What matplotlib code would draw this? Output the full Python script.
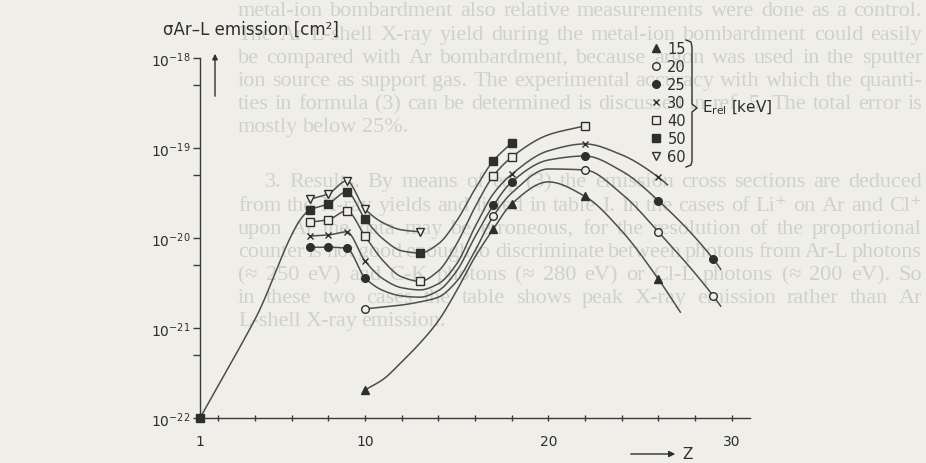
import numpy as np
import matplotlib
matplotlib.use("Agg")
import matplotlib.pyplot as plt
from matplotlib.lines import Line2D

W, H = 926, 464

# projectile energies (keV) and their symbols
energies = [15, 20, 25, 30, 40, 50, 60]
symbols = ["^", "o", "o", "x", "s", "s", "v"]
solid = [True, False, True, True, False, True, False]

# hand-drawn curves: knots (Z, sigma in cm^2) and the Z values carrying a measured point
z15 = [10, 11, 12, 13, 14, 15, 16, 17, 18, 20, 22, 24, 26, 27.2]
s15 = [2.05e-22, 2.7e-22, 4.2e-22, 6.8e-22, 1.2e-21, 2.6e-21, 6.15e-21,
       1.26e-20, 2.4e-20, 4.2e-20, 2.9e-20, 1.2e-20, 3.5e-21, 1.5e-21]
m15 = [10, 17, 18, 22, 26]

z20 = [10, 11, 12, 13, 14, 15, 16, 17, 18, 20, 22, 24, 26, 29, 29.4]
s20 = [1.63e-21, 1.71e-21, 1.8e-21, 1.95e-21, 2.2e-21, 3.3e-21, 7.2e-21,
       1.75e-20, 3.16e-20, 5.85e-20, 5.7e-20, 3.1e-20, 1.17e-20, 2.27e-21, 1.75e-21]
m20 = [10, 17, 22, 26, 29]

z25 = [7, 8, 9, 10, 11, 12, 13, 14, 15, 16, 17, 18, 20, 22, 24, 26, 29, 29.4]
s25 = [7.9e-21, 7.9e-21, 7.7e-21, 3.6e-21, 2.6e-21, 2.27e-21, 2.2e-21, 2.6e-21,
       4.3e-21, 1.03e-20, 2.3e-20, 4.2e-20, 7.35e-20, 8.15e-20, 5.55e-20,
       2.6e-20, 5.85e-21, 4.5e-21]
m25 = [7, 8, 9, 10, 17, 18, 22, 26, 29]

z30 = [7, 8, 9, 10, 11, 12, 13, 14, 15, 16, 17, 18, 20, 22, 24, 26, 26.5]
s30 = [1.05e-20, 1.08e-20, 1.17e-20, 5.55e-21, 3.5e-21, 2.8e-21, 2.65e-21,
       3.1e-21, 5.15e-21, 1.33e-20, 3.1e-20, 5.1e-20, 9.3e-20, 1.11e-19,
       8.4e-20, 4.75e-20, 3.9e-20]
m30 = [7, 8, 9, 10, 18, 22, 26]

z40 = [7, 8, 9, 10, 11, 12, 13, 14, 15, 16, 17, 18, 20, 22]
s40 = [1.5e-20, 1.6e-20, 2.0e-20, 1.05e-20, 5.55e-21, 3.7e-21, 3.3e-21,
       4.3e-21, 8.6e-21, 2.2e-20, 4.9e-20, 7.9e-20, 1.4e-19, 1.76e-19]
m40 = [7, 8, 9, 10, 13, 17, 18, 22]

z50 = [1, 4, 7, 8, 9, 10, 11, 12, 13, 14, 15, 16, 17, 18]
s50 = [1.0e-22, 1.25e-21, 2.05e-20, 2.4e-20, 3.25e-20, 1.63e-20, 9.7e-21, 7.2e-21,
       6.8e-21, 8.6e-21, 1.55e-20, 3.5e-20, 7.2e-20, 1.14e-19]
m50 = [1, 7, 8, 9, 10, 13, 17, 18]

z60 = [7, 8, 9, 10, 11, 12, 13]
s60 = [2.7e-20, 3.1e-20, 4.3e-20, 2.1e-20, 1.47e-20, 1.23e-20, 1.17e-20]
m60 = [7, 8, 9, 10, 13]

curves = [(z15, s15, m15), (z20, s20, m20), (z25, s25, m25), (z30, s30, m30),
          (z40, s40, m40), (z50, s50, m50), (z60, s60, m60)]

# page text printed behind the figure; True marks a justified (full) line
page_lines = [
    ("metal-ion bombardment also relative measurements were done as a control.", True),
    ("The Ar L-shell X-ray yield during the metal-ion bombardment could easily", True),
    ("be compared with Ar bombardment, because argon was used in the sputter", True),
    ("ion source as support gas. The experimental accuracy with which the quanti-", True),
    ("ties in formula (3) can be determined is discussed in ref. 5. The total error is", True),
    ("mostly below 25%.", False),
]
page_lines2 = [
    ("3. Results. By means of eq. (3) the emission cross sections are deduced", True),
    ("from the X-ray yields and listed in table I. In the cases of Li\u207a on Ar and Cl\u207a", True),
    ("upon Ar the data may be erroneous, for the resolution of the proportional", True),
    ("counter is not good enough to discriminate between photons from Ar-L photons", True),
    ("(\u2248 250 eV) and C-K photons (\u2248 280 eV) or Cl-L photons (\u2248 200 eV). So", True),
    ("in these two cases the table shows peak X-ray emission rather than Ar", True),
    ("L-shell X-ray emission.", False),
]


def pchip(x, y, xs):
    # monotone cubic Hermite through the knots, so the drawn curve never overshoots
    x = np.asarray(x, float)
    y = np.asarray(y, float)
    h = np.diff(x)
    d = np.diff(y) / h
    n = len(x)
    m = np.zeros(n)
    m[0], m[-1] = d[0], d[-1]
    for k in range(1, n - 1):
        if d[k - 1] * d[k] > 0:
            w1 = 2 * h[k] + h[k - 1]
            w2 = h[k] + 2 * h[k - 1]
            m[k] = (w1 + w2) / (w1 / d[k - 1] + w2 / d[k])
    k = np.clip(np.searchsorted(x, xs) - 1, 0, n - 2)
    t = (xs - x[k]) / h[k]
    h00 = 2 * t ** 3 - 3 * t ** 2 + 1
    h10 = t ** 3 - 2 * t ** 2 + t
    h01 = -2 * t ** 3 + 3 * t ** 2
    h11 = t ** 3 - t ** 2
    return h00 * y[k] + h10 * h[k] * m[k] + h01 * y[k + 1] + h11 * h[k] * m[k + 1]


def fig_xy(px, py):
    return px / W, 1 - py / H


paper = "#efeee9"
ink = "#2e2e2e"
line_col = "#4d4d4d"
faint = "#d1d1cc"

fig = plt.figure(figsize=(W / 100, H / 100), dpi=100, facecolor=paper)
renderer = fig.canvas.get_renderer()


def page_line(txt, full, left, py, right=922, size=16.0):
    words = txt.split()
    texts = [fig.text(0, 0, w, fontsize=size, family=["Liberation Serif", "DejaVu Serif"],
                      color=faint, va="center", ha="left", zorder=-5) for w in words]
    widths = [t.get_window_extent(renderer).width for t in texts]
    space = 4.5
    if full and len(words) > 1:
        space = (right - left - sum(widths)) / (len(words) - 1)
        if space < 3.5:
            # too long at this size: shrink the whole line to fit
            scale = (right - left - 3.5 * (len(words) - 1)) / sum(widths)
            for t in texts:
                t.set_fontsize(size * scale)
            widths = [w * scale for w in widths]
            space = 3.5
    x = left
    for t, w in zip(texts, widths):
        t.set_position(fig_xy(x, py))
        x += w + space


for i, (txt, full) in enumerate(page_lines):
    page_line(txt, full, 238, 12 + 23.1 * i)
for i, (txt, full) in enumerate(page_lines2):
    page_line(txt, full, 265 if i == 0 else 238, 183 + 23.1 * i)

ax = fig.add_axes([200 / W, 45 / H, 550 / W, 360 / H])
ax.set_facecolor("none")
ax.set_yscale("log")
ax.set_xlim(1, 31)
ax.set_ylim(1e-22, 1e-18)

for (zk, sk, mk), sym, fill in zip(curves, symbols, solid):
    zz = np.linspace(zk[0], zk[-1], 300)
    ls = pchip(zk, np.log10(sk), zz)
    ax.plot(zz, 10 ** ls, color=line_col, lw=1.1, zorder=2)
    lookup = dict(zip(zk, sk))
    ms = [lookup[z] for z in mk]
    ax.plot(mk, ms, ls="none", marker=sym, ms=5.5 if sym != "x" else 5,
            mfc=ink if fill else paper, mec=ink, mew=1.0, zorder=3, clip_on=False)

for side in ["top", "right"]:
    ax.spines[side].set_visible(False)
for side in ["left", "bottom"]:
    ax.spines[side].set_color("#3a3a3a")
    ax.spines[side].set_linewidth(1.0)

ax.set_yticks([1e-22, 1e-21, 1e-20, 1e-19, 1e-18])
ax.set_yticklabels([r"$10^{-22}$", r"$10^{-21}$", r"$10^{-20}$", r"$10^{-19}$", r"$10^{-18}$"])
ax.set_yticks([5e-22, 5e-21, 5e-20, 5e-19], minor=True)
ax.yaxis.set_minor_formatter(plt.NullFormatter())
ax.tick_params(axis="y", which="both", direction="out", length=5, width=1,
               color="#3a3a3a", labelcolor=ink, labelsize=10, pad=2)

ax.set_xticks([1, 10, 20, 30])
ax.set_xticks([z for z in range(2, 31, 2) if z not in (10, 20, 30)], minor=True)
ax.tick_params(axis="x", which="both", direction="inout", length=5, width=1,
               color="#3a3a3a", labelcolor=ink, labelsize=10, pad=9)

# axis captions
fig.text(*fig_xy(163, 30), "\u03c3Ar\u2013L emission [cm\u00b2]", fontsize=12, color=ink,
         va="center", ha="left")
fig.text(*fig_xy(682, 455), "Z", fontsize=11, color=ink, va="center", ha="left")
ax.annotate("", xy=fig_xy(678, 455), xytext=fig_xy(628, 455), xycoords="figure fraction",
            textcoords="figure fraction",
            arrowprops=dict(arrowstyle="-|>", color=ink, lw=1.0, mutation_scale=9))
ax.annotate("", xy=fig_xy(215, 52), xytext=fig_xy(215, 100), xycoords="figure fraction",
            textcoords="figure fraction",
            arrowprops=dict(arrowstyle="-|>", color=ink, lw=1.0, mutation_scale=8))

# legend with a brace tying the energies to E_rel
handles = [Line2D([], [], ls="none", marker=sym, ms=5.5 if sym != "x" else 5,
                  mfc=ink if fill else paper, mec=ink, mew=1.0)
           for sym, fill in zip(symbols, solid)]
fig.legend(handles, [str(e) for e in energies], loc="upper left",
           bbox_to_anchor=fig_xy(644, 35), frameon=False, fontsize=10.5,
           handlelength=0.7, handletextpad=0.4, labelspacing=0.2, borderpad=0,
           labelcolor=ink)
bx = np.array([686, 691, 692, 692, 697, 692, 692, 691, 686])
by = np.array([41, 43, 48, 105, 109, 113, 162, 166, 168])
fig.add_artist(Line2D(bx / W, 1 - by / H, color=ink, lw=1.0))
fig.text(*fig_xy(702, 108), r"E$_{\mathrm{rel}}$ [keV]", fontsize=11, color=ink,
         va="center", ha="left")

fig.savefig("out.png", dpi=100, facecolor=paper)
